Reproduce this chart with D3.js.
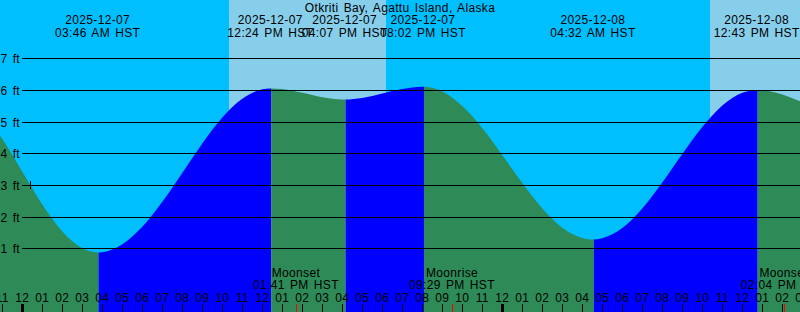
<!DOCTYPE html>
<html>
<head>
<meta charset="utf-8">
<script src="https://cdn.jsdelivr.net/npm/d3@7"></script>
<style>
  html, body { margin: 0; padding: 0; background: #00BFFF; }
  svg { display: block; }
  text { font-family: "Liberation Sans", Arial, sans-serif; font-size: 12px; fill: #000; letter-spacing: 0.35px; word-spacing: 1.5px; }
</style>
</head>
<body>
<svg id="chart" width="800" height="312"></svg>
<script>
// ---- data (hours relative to 2025-12-07 00:00 HST) ----
const title = "Otkriti Bay, Agattu Island, Alaska";

const tideHours = [-2, -1, 0, 1, 2, 3, 3.767, 4, 5, 6, 7, 8, 9, 10, 11, 12, 12.4, 13, 14, 15, 16, 16.117,
  17, 18, 19, 20, 20.033, 21, 22, 23, 24, 25, 26, 27, 28, 28.533, 29, 30, 31, 32, 33, 34, 35, 36, 36.717, 37, 38, 39];
const tideFeet = [5.32, 4.45, 3.42, 2.38, 1.53, 1.00, 0.87, 0.88, 1.13, 1.68, 2.47, 3.38, 4.31, 5.13, 5.72, 6.02, 6.05, 6.03, 5.91, 5.77, 5.70, 5.70,
  5.75, 5.89, 6.03, 6.10, 6.10, 5.95, 5.49, 4.79, 3.94, 3.06, 2.26, 1.65, 1.33, 1.28, 1.32, 1.64, 2.26, 3.08, 3.98, 4.83, 5.51, 5.91, 6.00, 5.99, 5.86, 5.61];

const eventHours = [3.767, 12.4, 16.117, 20.033, 28.533, 36.717];
const eventTypes = ["low", "high", "low", "high", "low", "high"];
const eventDates = ["2025-12-07", "2025-12-07", "2025-12-07", "2025-12-07", "2025-12-08", "2025-12-08"];
const eventTimes = ["03:46 AM HST", "12:24 PM HST", "04:07 PM HST", "08:02 PM HST", "04:32 AM HST", "12:43 PM HST"];

const moonHours = [13.683, 21.483, 38.067];
const moonNames = ["Moonset", "Moonrise", "Moonset"];
const moonTimes = ["01:41 PM HST", "09:29 PM HST", "02:04 PM HST"];

const dayStart = [10.335, 34.385];
const dayEnd = [18.185, 40];

const feetTicks = [1, 2, 3, 4, 5, 6, 7];
const hourTicks = d3.range(-1, 40);
const nowHour = 0.385;
const nowFeet = 3;

// ---- layout ----
const W = 800, H = 312;
const x = d3.scaleLinear().domain([0, 39]).range([22.3, 802.3]);
const y = d3.scaleLinear().domain([0, 7]).range([280, 58.3]);
const svg = d3.select("#chart");

// background: night / day
svg.append("rect").attr("x", 0).attr("y", 0).attr("width", W).attr("height", H).attr("fill", "#00BFFF");
svg.selectAll("rect.day").data(dayStart).join("rect").attr("class", "day")
  .attr("x", (d) => Math.round(x(d)))
  .attr("y", 0)
  .attr("width", (d, i) => Math.round(x(dayEnd[i])) - Math.round(x(d)))
  .attr("height", H)
  .attr("fill", "#87CEEB");

// tide area
const tide = tideHours.map((h, i) => ({ h, f: tideFeet[i] }));
const area = d3.area().x((d) => x(d.h)).y0(H).y1((d) => y(d.f)).curve(d3.curveMonotoneX);

const defs = svg.append("defs");
const bounds = [-5].concat(eventHours, [45]);
const nextType = eventTypes.concat(["low"]);
bounds.slice(0, -1).forEach((b, i) => {
  const x0 = i === 0 ? -10 : x(b) + 1;
  const x1 = i === bounds.length - 2 ? W + 10 : x(bounds[i + 1]) + 1;
  const id = "clip" + i;
  defs.append("clipPath").attr("id", id).append("rect")
    .attr("x", x0).attr("y", 0).attr("width", x1 - x0).attr("height", H);
  const rising = nextType[i] === "high";
  svg.append("path").datum(tide)
    .attr("clip-path", `url(#${id})`)
    .attr("d", area)
    .attr("fill", rising ? "#0000FF" : "#2E8B57");
});

// grid lines + feet labels
svg.selectAll("line.grid").data(feetTicks).join("line").attr("class", "grid")
  .attr("x1", 22).attr("x2", W)
  .attr("y1", (d) => Math.round(y(d)) + 0.5).attr("y2", (d) => Math.round(y(d)) + 0.5)
  .attr("stroke", "#000").attr("stroke-width", 1);
svg.selectAll("text.ft").data(feetTicks).join("text").attr("class", "ft")
  .attr("x", 20).attr("y", (d) => Math.round(y(d)) + 4.5)
  .attr("text-anchor", "end").text((d) => d + " ft");

// small "now" marker
svg.append("line")
  .attr("x1", Math.round(x(nowHour)) + 0.5).attr("x2", Math.round(x(nowHour)) + 0.5)
  .attr("y1", y(nowFeet) - 4).attr("y2", y(nowFeet) + 4)
  .attr("stroke", "#000").attr("stroke-width", 1);

// title
svg.append("text").attr("x", W / 2).attr("y", 12).attr("text-anchor", "middle").text(title);

// tide event labels
svg.selectAll("text.edate").data(eventHours).join("text").attr("class", "edate")
  .attr("x", (d) => x(d)).attr("y", 23.5).attr("text-anchor", "middle")
  .text((d, i) => eventDates[i]);
svg.selectAll("text.etime").data(eventHours).join("text").attr("class", "etime")
  .attr("x", (d) => x(d)).attr("y", 36.5).attr("text-anchor", "middle")
  .text((d, i) => eventTimes[i]);

// moon event labels
svg.selectAll("text.mname").data(moonHours).join("text").attr("class", "mname")
  .attr("x", (d) => x(d)).attr("y", 277).attr("text-anchor", "middle")
  .text((d, i) => moonNames[i]);
svg.selectAll("text.mtime").data(moonHours).join("text").attr("class", "mtime")
  .attr("x", (d) => x(d)).attr("y", 289).attr("text-anchor", "middle")
  .text((d, i) => moonTimes[i]);

// hour labels
const hourLabel = (h) => {
  const hh = ((h % 12) + 12) % 12;
  return String(hh === 0 ? 12 : hh).padStart(2, "0");
};
svg.selectAll("text.hr").data(hourTicks).join("text").attr("class", "hr")
  .attr("x", (d) => x(d)).attr("y", 302).attr("text-anchor", "middle")
  .text(hourLabel);

// hour ticks (midnight thicker)
const isMidnight = (d) => ((d % 24) + 24) % 24 === 0;
svg.selectAll("rect.tick").data(hourTicks).join("rect").attr("class", "tick")
  .attr("x", (d) => Math.round(x(d)) - (isMidnight(d) ? 1 : 0))
  .attr("y", 304)
  .attr("width", (d) => (isMidnight(d) ? 3 : 1))
  .attr("height", H - 304)
  .attr("fill", "#000");

// moon ticks
svg.selectAll("rect.mtick").data(moonHours).join("rect").attr("class", "mtick")
  .attr("x", (d) => Math.round(x(d)))
  .attr("y", 304).attr("width", 1).attr("height", H - 304)
  .attr("fill", "#FF0000");
</script>
</body>
</html>
